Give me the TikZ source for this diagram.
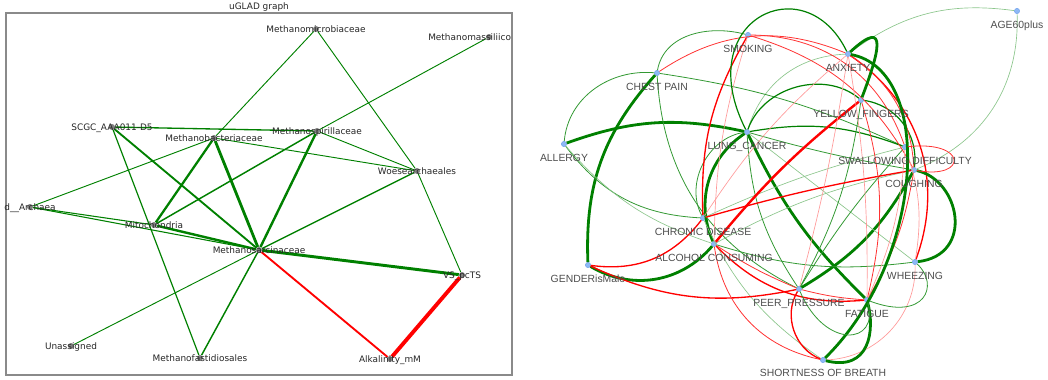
\documentclass[tikz,border=0pt]{standalone}
\usepackage{fontspec}
\setmainfont{DejaVu Sans}
\newfontfamily\arialfont{Liberation Sans}
\usepackage{xcolor}
\usetikzlibrary{calc}
\definecolor{edgegreen}{HTML}{008000}
\definecolor{edgered}{HTML}{FF0000}
\definecolor{dotgray}{HTML}{808080}
\definecolor{framegray}{HTML}{8A8A8A}
\definecolor{labdark}{HTML}{262626}
\definecolor{labgray}{HTML}{4D4D4D}
\definecolor{visfill}{HTML}{8DB8F5}
\definecolor{visline}{HTML}{6C9FEA}
\tikzset{
  panel/.style={draw=framegray, line width=0.8pt},
  gline/.style={draw=edgegreen, line width=#1},
  rline/.style={draw=edgered, line width=#1},
  gdot/.style={circle, fill=dotgray, inner sep=0pt, minimum size=4.5pt},
  glab/.style={text=labdark, font=\fontsize{6.7}{7}\selectfont, anchor=base, inner sep=0pt},
  vdot/.style={circle, fill=visfill, draw=visline, line width=0.3pt, inner sep=0pt, minimum size=4pt},
  vlab/.style={text=labgray, font=\arialfont\fontsize{7.8}{9}\selectfont, anchor=base, inner sep=0pt},
  gk/.style={draw=edgegreen, line width=2.1pt},
  gm/.style={draw=edgegreen, line width=0.9pt},
  gt/.style={draw=edgegreen!80!white, line width=0.6pt},
  gl/.style={draw=edgegreen!45!white, line width=0.5pt},
  rk/.style={draw=edgered, line width=1.8pt},
  rm/.style={draw=edgered, line width=1pt},
  rt/.style={draw=edgered!80!white, line width=0.6pt},
  rl/.style={draw=edgered!40!white, line width=0.5pt},
}

\begin{document}
\begin{tikzpicture}[x=0.75pt, y=-0.75pt]
  \useasboundingbox (0,0) rectangle (1048,379);

  % left panel: uGLAD graph
  \node[glab, anchor=center] (ttl) at (259,7) {uGLAD graph};
  \draw[panel] (6,13) rectangle (512,375);
  \foreach \n/\x/\y in {mmicro/316/29, mmass/489/37, scgc/112/127, mbact/214/138,
      mspir/317/131, woese/417/171, darch/30/207, mito/154/225, msarc/259/250,
      vspcts/462/275, unass/71/346, mfast/200/358, alkal/390/359}
    \node[gdot] (\n) at (\x,\y) {};
  \foreach \a/\b/\w in {mmicro/mbact/0.7pt, mmicro/woese/0.7pt, mmass/mspir/0.7pt,
      scgc/mspir/1pt, mbact/woese/0.7pt, mspir/woese/0.7pt, mbact/darch/0.7pt,
      scgc/mfast/0.9pt, mbact/mito/1.7pt, scgc/msarc/1.4pt, mspir/mito/1.1pt,
      mbact/msarc/2.1pt, mspir/msarc/1.8pt, woese/msarc/1pt, woese/vspcts/0.7pt,
      darch/mito/0.8pt, darch/msarc/0.8pt, mito/msarc/1.8pt, msarc/vspcts/2.2pt,
      msarc/unass/0.7pt, msarc/mfast/1.1pt}
    \draw[gline=\w] (\a) -- (\b);
  \draw[rline=1.4pt] (msarc) -- (alkal);
  \draw[rline=2.9pt] (vspcts) -- (alkal);
  \foreach \n/\t in {mmicro/Methanomicrobiaceae, scgc/SCGC\_AAA011-D5,
      mbact/Methanobacteriaceae, mspir/Methanospirillaceae, woese/Woesearchaeales,
      darch/d\_\_Archaea, mito/Mitochondria, msarc/Methanosarcinaceae,
      vspcts/VS\_pcTS, unass/Unassigned, mfast/Methanofastidiosales,
      alkal/Alkalinity\_mM}
    \node[glab] (\n-l) at ($(\n)+(0,3.2)$) {\t};
  \node[glab, anchor=base west] (mmass-l) at (428,40.2) {Methanomassiliico};

  % right panel
  \foreach \n/\x/\y in {age/1017/11, smo/748/35, anx/848/54, che/657/73, yel/861/100,
      lun/747/132, alg/564/144, swa/905/147, cou/914/170, chr/703/218, alc/714/244,
      gen/588/265, whe/915/262, pee/799/289, fat/867/300, sho/823/360}
    \node[vdot] (\n) at (\x,\y) {};
  \foreach \a/\b/\s/\k in {alg/lun/gk/16, che/gen/gk/-22, alc/lun/gk/40, gen/alc/gk/-40,
      lun/fat/gk/-10, pee/cou/gk/-15,
      anx/age/gl/22, age/cou/gl/35, lun/anx/gl/35, che/swa/gt/8, che/pee/gt/-30,
      alg/chr/gt/-25, alg/alc/gl/-15, alc/cou/gl/8, chr/swa/gl/5, alc/whe/gt/-12,
      lun/whe/gl/0, lun/pee/gt/-15, lun/yel/gm/55, lun/swa/gm/15, lun/cou/gt/-3,
      yel/cou/gm/45, yel/pee/gt/10, chr/sho/gl/-15, swa/pee/gt/-5, lun/chr/gt/-55,
      smo/chr/rm/-16, smo/alc/rl/-8, yel/alc/rk/-6, chr/cou/rm/3, gen/chr/rm/-30,
      gen/pee/rm/-18, alc/pee/rt/-5, alc/fat/rm/-25, alc/sho/rt/-35, pee/sho/rm/-50,
      pee/fat/rt/-5, sho/whe/rl/-45, anx/whe/rm/38, anx/cou/rt/26, smo/cou/rt/22,
      smo/swa/rt/35, che/anx/rt/28, anx/chr/rl/-8, anx/pee/rl/3, yel/fat/rt/15,
      cou/fat/rt/10, anx/fat/rl/5, swa/whe/rl/14, swa/fat/rl/10}
    \draw[\s] (\a) to[bend left=\k] (\b);
  \draw[gk] (anx) .. controls (890,15) and (878,55) .. (yel);
  \draw[gk] (anx) .. controls (935,70) and (925,260) .. (sho);
  \draw[gk] (cou) .. controls (960,180) and (975,255) .. (whe);
  \draw[gk] (sho) .. controls (870,372) and (875,330) .. (fat);
  \draw[gt] (che) to[out=175, in=85] (alg);
  \draw[gt] (che) to[out=80, in=165] (smo);
  \draw[gm] (lun) .. controls (690,20) and (805,-35) .. (anx);
  \draw[gt] (pee) .. controls (825,350) and (880,345) .. (fat);
  \draw[gt] (fat) .. controls (925,322) and (940,285) .. (whe);
  \draw[rt] (swa) .. controls (968,140) and (968,180) .. (cou);
  \foreach \n/\t in {age/AGE60plus, smo/SMOKING, anx/ANXIETY, che/CHEST PAIN,
      yel/YELLOW\_FINGERS, lun/LUNG\_CANCER, alg/ALLERGY, swa/SWALLOWING DIFFICULTY,
      cou/COUGHING, chr/CHRONIC DISEASE, alc/ALCOHOL CONSUMING, gen/GENDERisMale,
      whe/WHEEZING, pee/PEER\_PRESSURE, fat/FATIGUE}
    \node[vlab] (\n-l) at ($(\n)+(0,17)$) {\t};
  \node[vlab] (sho-l) at ($(sho)+(0,16)$) {SHORTNESS OF BREATH};
\end{tikzpicture}
\end{document}
